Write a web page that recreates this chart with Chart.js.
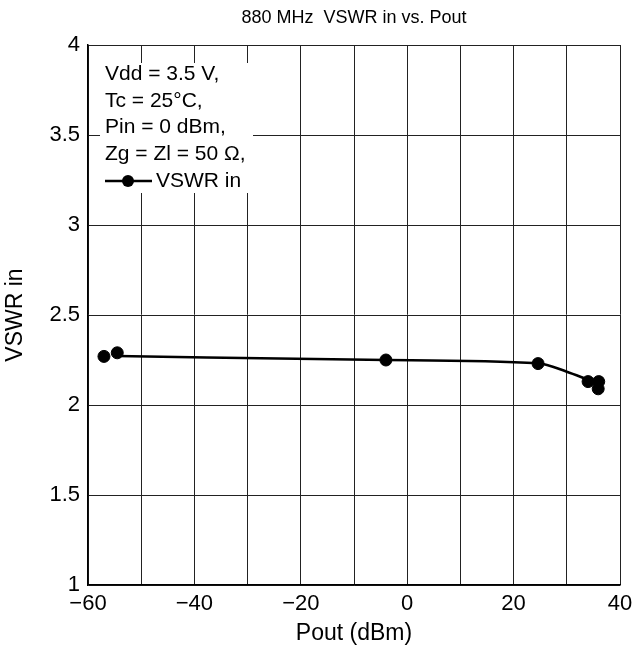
<!DOCTYPE html>
<html>
<head>
<meta charset="utf-8">
<script src="https://cdn.jsdelivr.net/npm/chart.js@4"></script>
<style>
  html, body { margin: 0; padding: 0; background: #fff; }
  #wrap { width: 632px; height: 651px; }
</style>
</head>
<body>
<div id="wrap"><canvas id="myChart" width="632" height="651"></canvas></div>
<script>
// measured points
var pointX = [-57, -54.5, -4, 24.6, 34, 36, 35.9];
var pointY = [2.27, 2.29, 2.25, 2.23, 2.13, 2.13, 2.09];
// smooth fitted curve through the data
var curveX = [-54.5, -4, 24.6, 30, 34];
var curveY = [2.272, 2.25, 2.232, 2.185, 2.14];
var xTicks = [-60, -50, -40, -30, -20, -10, 0, 10, 20, 30, 40];
var noteLines = ['Vdd = 3.5 V,', 'Tc = 25\u00b0C,', 'Pin = 0 dBm,', 'Zg = Zl = 50 \u03a9,'];

var FONT = '"Liberation Sans", Arial, sans-serif';
Chart.defaults.font.family = FONT;
Chart.defaults.color = '#000';

function toXY(xs, ys) {
    return xs.map(function (x, i) { return { x: x, y: ys[i] }; });
}

var notePlugin = {
    id: 'noteBox',
    beforeDatasetsDraw: function (chart) {
        var c = chart.ctx, a = chart.chartArea;
        c.save();
        c.fillStyle = '#fff';
        c.fillRect(a.left + 12, a.top + 18, 153, 130);
        c.restore();
    },
    afterDraw: function (chart) {
        var c = chart.ctx, a = chart.chartArea;
        c.save();
        c.fillStyle = '#000';
        c.font = '21px ' + FONT;
        c.textBaseline = 'middle';
        c.textAlign = 'left';
        noteLines.forEach(function (t, i) {
            c.fillText(t, a.left + 17, a.top + 29 + i * 26.8);
        });
        var ly = a.top + 136;
        c.strokeStyle = '#000';
        c.lineWidth = 2.5;
        c.beginPath();
        c.moveTo(a.left + 17, ly);
        c.lineTo(a.left + 64, ly);
        c.stroke();
        c.beginPath();
        c.arc(a.left + 40, ly, 6, 0, Math.PI * 2);
        c.fill();
        c.fillText('VSWR in', a.left + 68, ly);
        // title
        c.font = '18px ' + FONT;
        c.textAlign = 'center';
        c.fillText('880 MHz  VSWR in vs. Pout', (a.left + a.right) / 2, 18);
        c.restore();
    }
};

var ctx = document.getElementById('myChart').getContext('2d');
var myChart = new Chart(ctx, {
    type: 'scatter',
    data: {
        datasets: [{
            label: 'VSWR in fit',
            data: toXY(curveX, curveY),
            showLine: true,
            borderColor: '#000',
            borderWidth: 2.5,
            pointRadius: 0,
            cubicInterpolationMode: 'monotone',
            fill: false
        }, {
            label: 'VSWR in',
            data: toXY(pointX, pointY),
            showLine: false,
            pointRadius: 6,
            pointBackgroundColor: '#000',
            pointBorderColor: '#000'
        }]
    },
    options: {
        responsive: false,
        animation: false,
        layout: { padding: { top: 45, right: 0, left: 0, bottom: 0 } },
        plugins: {
            legend: { display: false },
            tooltip: { enabled: false }
        },
        scales: {
            x: {
                type: 'linear',
                min: -60,
                max: 40,
                ticks: {
                    padding: 6,
                    font: { size: 22 },
                    callback: function (v) {
                        return v % 20 === 0 ? String(v).replace('-', '\u2212') : '';
                    }
                },
                grid: { color: '#222', lineWidth: 1, drawTicks: false },
                border: { color: '#000', width: 1.5 },
                afterBuildTicks: function (s) {
                    s.ticks = xTicks.map(function (v) { return { value: v }; });
                },
                title: { display: true, text: 'Pout (dBm)', font: { size: 23 }, padding: { top: 0 } },
                afterFit: function (s) { s.height = 66; s.paddingRight = 12; }
            },
            y: {
                min: 1,
                max: 4,
                ticks: {
                    stepSize: 0.5,
                    padding: 8,
                    font: { size: 22 },
                    callback: function (v) { return String(v); }
                },
                grid: { color: '#222', lineWidth: 1, drawTicks: false },
                border: { color: '#000', width: 1.5 },
                title: { display: true, text: 'VSWR in', font: { size: 23 }, padding: { bottom: 0, top: 2 } },
                afterFit: function (s) { s.width = 88; }
            }
        }
    },
    plugins: [notePlugin]
});
</script>
</body>
</html>
